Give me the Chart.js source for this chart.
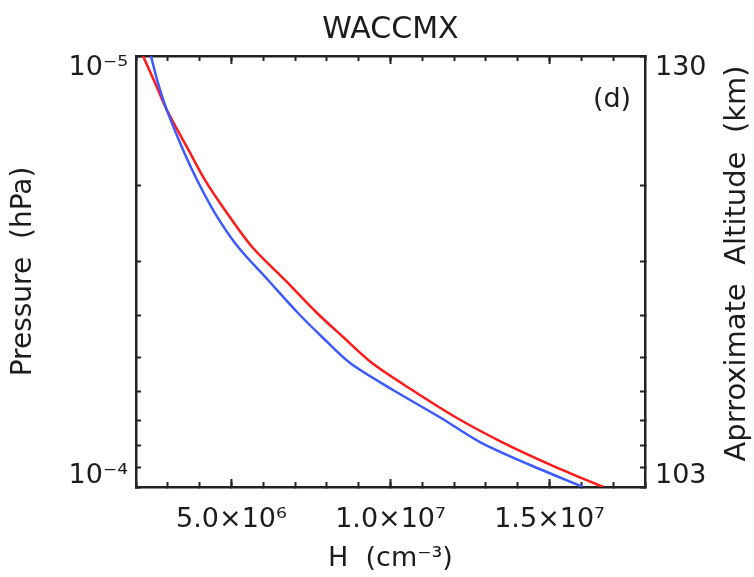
<!DOCTYPE html>
<html>
<head>
<meta charset="utf-8">
<script src="https://cdn.jsdelivr.net/npm/chart.js@4/dist/chart.umd.min.js"></script>
<style>
  html, body { margin: 0; padding: 0; background: #ffffff; }
  #wrap { width: 754px; height: 577px; }
</style>
</head>
<body>
<div id="wrap"><canvas id="profile" width="754" height="577"></canvas></div>
<script>
// Pressure levels (hPa) of the profile, top of panel to bottom
const pressureLevels = [1.000e-5, 1.155e-5, 1.335e-5, 1.652e-5, 1.940e-5, 2.314e-5, 2.775e-5, 3.309e-5,
                        3.947e-5, 4.487e-5, 5.157e-5, 5.956e-5, 6.917e-5, 7.864e-5, 8.892e-5, 1.000e-4];
// H number density (cm^-3) at each level
const hRed  = [2.22e6, 2.60e6, 2.97e6, 3.65e6, 4.17e6, 4.86e6, 5.65e6, 6.68e6,
               7.69e6, 8.51e6, 9.42e6, 1.068e7, 1.209e7, 1.350e7, 1.505e7, 1.668e7];
const hBlue = [2.47e6, 2.69e6, 2.97e6, 3.48e6, 3.92e6, 4.48e6, 5.21e6, 6.15e6,
               7.09e6, 7.85e6, 8.73e6, 1.008e7, 1.159e7, 1.281e7, 1.439e7, 1.605e7];

// Axis ticks and labels
const pressureTicks = [1e-5, 2e-5, 3e-5, 4e-5, 5e-5, 6e-5, 7e-5, 8e-5, 9e-5, 1e-4];
const pressureLabelValues = [1e-5, 1e-4];
const pressureLabels = ['10⁻⁵', '10⁻⁴'];
const altitudeLabels = ['130', '103'];
const hMajorTicks = [5e6, 1e7, 1.5e7];
const hTickLabels = ['5.0×10⁶', '1.0×10⁷', '1.5×10⁷'];

const panelTitle = 'WACCMX';
const panelLetter = '(d)';
const xTitle = 'H  (cm⁻³)';
const yTitle = 'Pressure  (hPa)';
const altitudeTitle = 'Aprroximate  Altitude  (km)';

const FONT = "'DejaVu Sans', sans-serif";
const frameColor = '#222222';
const textColor = '#1c1c1c';

const near = (a, b) => Math.abs(a - b) <= Math.abs(b) * 1e-6;
const labelFor = (v, values, labels) => {
  const i = values.findIndex(t => near(v, t));
  return i < 0 ? '' : labels[i];
};
// Top label hangs below its tick, bottom label sits above its tick
const edgeLabel = (v, labels) => {
  const s = labelFor(v, pressureLabelValues, labels);
  if (!s) return '';
  return near(v, pressureLabelValues[0]) ? ['', s] : [s, ''];
};

const toPoints = (xs) => xs.map((x, i) => ({ x: x, y: pressureLevels[i] }));

const frameGrid = { drawOnChartArea: false, tickLength: -5, tickWidth: 2, tickColor: frameColor };
const frameBorder = { display: true, color: frameColor, width: 2.5 };

// Longer inward marks at labelled H values, the panel letter and the right-hand title
const panelDecor = {
  id: 'panelDecor',
  afterDatasetsDraw(chart) {
    const { ctx, chartArea: a, scales } = chart;
    ctx.save();
    ctx.strokeStyle = frameColor;
    ctx.lineWidth = 2;
    ctx.beginPath();
    for (const v of hMajorTicks) {
      const px = scales.x.getPixelForValue(v);
      ctx.moveTo(px, a.bottom); ctx.lineTo(px, a.bottom - 8);
      ctx.moveTo(px, a.top); ctx.lineTo(px, a.top + 8);
    }
    ctx.stroke();

    ctx.fillStyle = textColor;
    ctx.textAlign = 'center';
    ctx.textBaseline = 'alphabetic';
    ctx.font = `27px ${FONT}`;
    ctx.fillText(panelLetter, a.right - 33, a.top + 51);

    ctx.translate(scales.y2.right - 9, (a.top + a.bottom) / 2 - 8);
    ctx.rotate(-Math.PI / 2);
    ctx.font = `29px ${FONT}`;
    ctx.fillText(altitudeTitle, 0, 0);
    ctx.restore();
  }
};

new Chart(document.getElementById('profile'), {
  type: 'scatter',
  data: {
    datasets: [
      { label: 'H profile (blue)', data: toPoints(hBlue), showLine: true, borderColor: 'rgb(60,90,255)',
        borderWidth: 2.5, pointRadius: 0, tension: 0.3, xAxisID: 'x', yAxisID: 'y' },
      { label: 'H profile (red)', data: toPoints(hRed), showLine: true, borderColor: 'rgb(255,25,25)',
        borderWidth: 2.5, pointRadius: 0, tension: 0.3, xAxisID: 'x', yAxisID: 'y' }
    ]
  },
  options: {
    responsive: false,
    animation: false,
    devicePixelRatio: 1,
    layout: { padding: 0 },
    plugins: { legend: { display: false }, tooltip: { enabled: false }, title: { display: false } },
    scales: {
      x: {
        type: 'linear', position: 'bottom', min: 2e6, max: 1.8e7,
        ticks: {
          stepSize: 1e6, autoSkip: false, maxRotation: 0, minRotation: 0, padding: 22,
          color: textColor, font: { family: FONT, size: 27 },
          callback: v => labelFor(v, hMajorTicks, hTickLabels)
        },
        grid: frameGrid, border: frameBorder,
        title: { display: true, text: xTitle, color: textColor, font: { family: FONT, size: 27 },
                 padding: { top: 0, bottom: 2 } },
        afterFit: s => { s.height = 90; }
      },
      x2: {
        type: 'linear', position: 'top', min: 2e6, max: 1.8e7,
        ticks: { stepSize: 1e6, autoSkip: false, display: false },
        grid: frameGrid, border: frameBorder,
        title: { display: true, text: panelTitle, color: textColor, font: { family: FONT, size: 30 },
                 padding: { top: 12, bottom: 0 } },
        afterFit: s => { s.height = 56; }
      },
      y: {
        type: 'logarithmic', position: 'left', reverse: true, min: 1e-5, max: 1e-4,
        afterBuildTicks: s => { s.ticks = pressureTicks.map(v => ({ value: v })); },
        ticks: {
          autoSkip: false, padding: 13, color: textColor,
          font: { family: FONT, size: 27, lineHeight: '23px' },
          callback: v => edgeLabel(v, pressureLabels)
        },
        grid: frameGrid, border: frameBorder,
        title: { display: true, text: yTitle, color: textColor, font: { family: FONT, size: 28 },
                 padding: { top: 6.5, bottom: 0 } },
        afterFit: s => { s.width = 136; }
      },
      y2: {
        type: 'logarithmic', position: 'right', reverse: true, min: 1e-5, max: 1e-4,
        afterBuildTicks: s => { s.ticks = pressureTicks.map(v => ({ value: v })); },
        ticks: {
          autoSkip: false, padding: 15, color: textColor,
          font: { family: FONT, size: 27, lineHeight: '23px' },
          callback: v => edgeLabel(v, altitudeLabels)
        },
        grid: frameGrid, border: frameBorder,
        afterFit: s => { s.width = 109; }
      }
    }
  },
  plugins: [panelDecor]
});
</script>
</body>
</html>
